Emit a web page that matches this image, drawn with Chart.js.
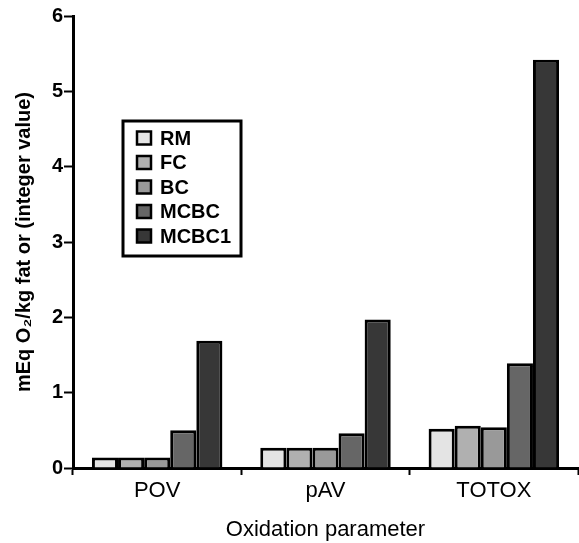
<!DOCTYPE html>
<html>
<head>
<meta charset="utf-8">
<script src="https://cdn.jsdelivr.net/npm/chart.js@4/dist/chart.umd.min.js"></script>
<style>
  html, body { margin: 0; padding: 0; background: #fff; }
  #wrap { width: 579px; height: 543px; position: relative; }
</style>
</head>
<body>
<div id="wrap"><canvas id="chart"></canvas></div>
<script>
// ── data ─────────────────────────────────────────────────────────────────────
const categories = ['POV', 'pAV', 'TOTOX'];
const seriesNames = ['RM', 'FC', 'BC', 'MCBC', 'MCBC1'];
const rmValues = [0.14, 0.27, 0.52];
const fcValues = [0.14, 0.27, 0.56];
const bcValues = [0.14, 0.27, 0.54];
const mcbcValues = [0.5, 0.46, 1.39];
const mcbc1Values = [1.69, 1.97, 5.42];
const yTickValues = [0, 1, 2, 3, 4, 5, 6];

const seriesValues = [rmValues, fcValues, bcValues, mcbcValues, mcbc1Values];
const seriesColors = ['#e4e4e4', '#b0b0b0', '#999999', '#666666', '#373737'];

const FONT = "'Liberation Sans', Arial, sans-serif";

// legend box drawn inside the plot area, like the original figure
const boxLegend = {
  id: 'boxLegend',
  afterDraw(chart) {
    const { ctx, chartArea } = chart;
    const x = chartArea.left + 50;
    const y = chartArea.top + 105;
    const w = 118;
    const h = 135;
    ctx.save();
    ctx.lineWidth = 3;
    ctx.strokeStyle = '#000';
    ctx.strokeRect(x, y, w, h);
    ctx.font = `bold 20px ${FONT}`;
    ctx.textBaseline = 'middle';
    chart.data.datasets.forEach((ds, i) => {
      const cy = y + 17 + i * 24.5;
      ctx.fillStyle = ds.backgroundColor;
      ctx.fillRect(x + 14, cy - 6.5, 14, 13);
      ctx.lineWidth = 2.5;
      ctx.strokeRect(x + 14, cy - 6.5, 14, 13);
      ctx.fillStyle = '#000';
      ctx.fillText(ds.label, x + 37, cy + 1);
    });
    ctx.restore();
  },
};

new Chart(document.getElementById('chart'), {
  type: 'bar',
  data: {
    labels: categories,
    datasets: seriesNames.map((name, i) => ({
      label: name,
      data: seriesValues[i],
      backgroundColor: seriesColors[i],
      borderColor: '#000',
      borderWidth: 3,
      categoryPercentage: 0.775,
      barPercentage: 1.0,
    })),
  },
  options: {
    responsive: true,
    maintainAspectRatio: false,
    animation: false,
    layout: { padding: { top: 16, right: 1, left: 0, bottom: 0 } },
    plugins: {
      legend: { display: false },
      tooltip: { enabled: false },
    },
    scales: {
      x: {
        grid: {
          offset: true,
          drawOnChartArea: false,
          drawTicks: true,
          tickLength: 7,
          tickWidth: 2,
          tickColor: '#000',
        },
        border: { display: true, color: '#000', width: 3 },
        ticks: { color: '#000', font: { family: FONT, size: 22 }, padding: 3 },
        title: {
          display: true,
          text: 'Oxidation parameter',
          color: '#000',
          font: { family: FONT, size: 22 },
          padding: { top: 8, bottom: 0 },
        },
        afterFit: (s) => { s.height = 75; },
      },
      y: {
        min: 0,
        max: 6,
        afterBuildTicks: (s) => { s.ticks = yTickValues.map((v) => ({ value: v })); },
        grid: {
          drawOnChartArea: false,
          drawTicks: true,
          tickLength: 9,
          tickWidth: 2,
          tickColor: '#000',
        },
        border: { display: true, color: '#000', width: 3 },
        ticks: { color: '#000', font: { family: FONT, size: 20, weight: 'bold' }, padding: 1 },
        title: {
          display: true,
          text: 'mEq O\u2082/kg fat or (integer value)',
          color: '#000',
          font: { family: FONT, size: 20, weight: 'bold' },
          padding: { top: 12, bottom: 4 },
        },
        afterFit: (s) => { s.width = 73; },
      },
    },
  },
  plugins: [boxLegend],
});
</script>
</body>
</html>
